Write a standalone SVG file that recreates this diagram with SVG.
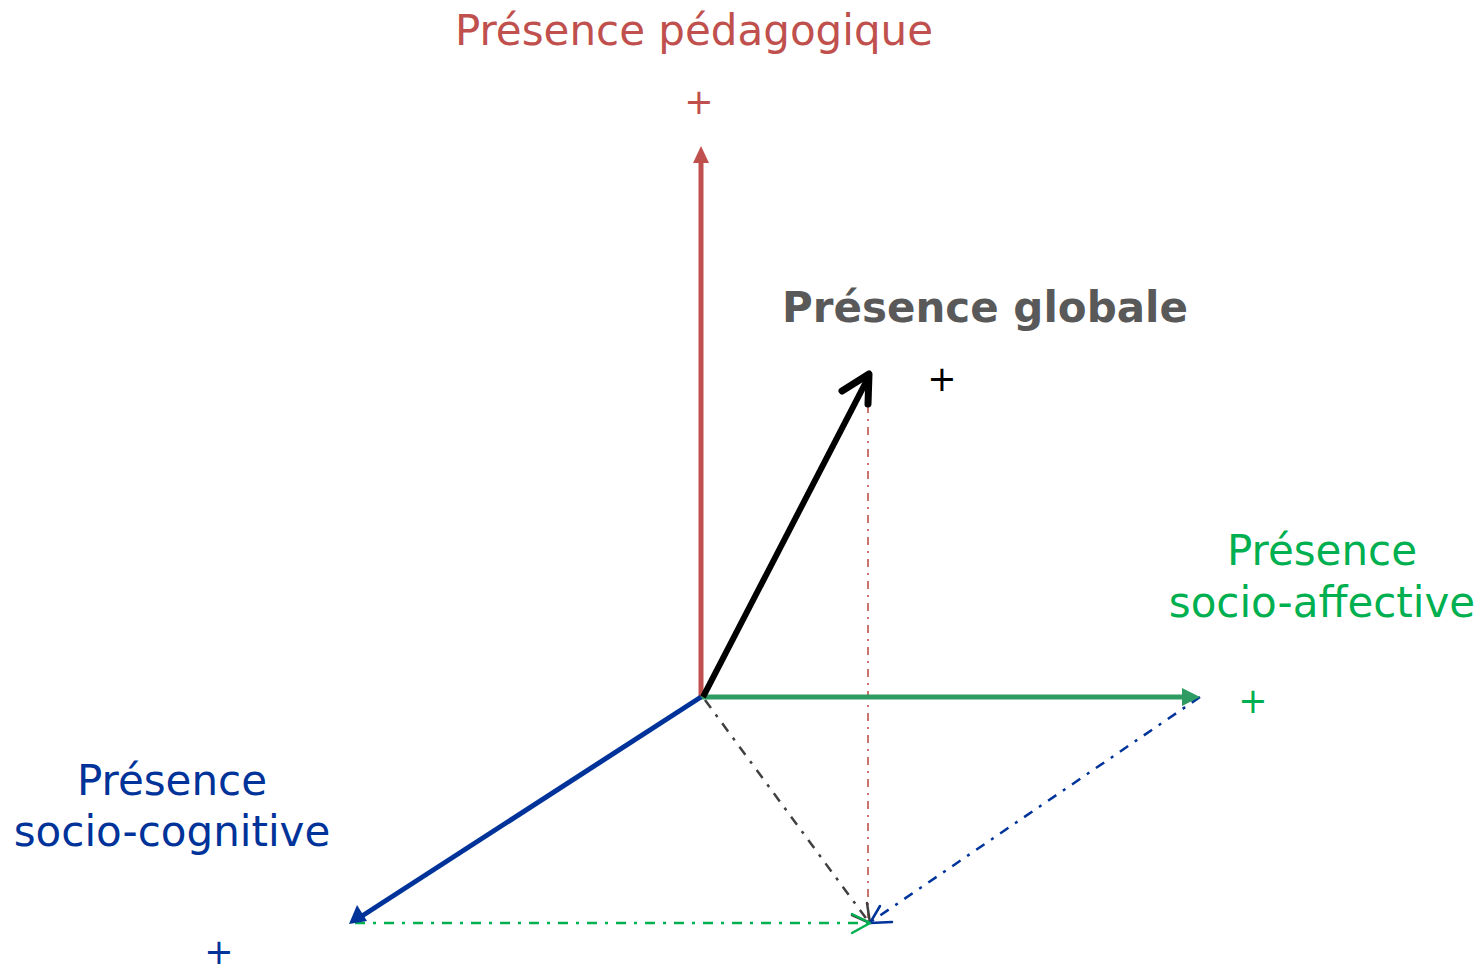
<svg xmlns="http://www.w3.org/2000/svg" width="1481" height="967" viewBox="0 0 1481 967">
<style>
text{font-family:"DejaVu Sans","Verdana",sans-serif;font-size:42px}
.red{fill:#C0504D}.grn{fill:#00B050}.blu{fill:#003399}
.plus{font-size:35px}
.dd{fill:none;stroke-width:2.5;stroke-dasharray:10 8 3 8}
.open{fill:none;stroke-width:2.5;stroke-linecap:round;stroke-linejoin:round}
</style>
<rect width="1481" height="967" fill="#fff"/>
<g id="connectors">
<line x1="868" y1="405" x2="868" y2="918" stroke="#C0504D" stroke-width="1.6" stroke-dasharray="8 6 2 6"/>
<line class="dd" x1="705" y1="700" x2="868" y2="921" stroke="#404040"/>
<polyline class="open" points="852,915 870,923 867,903" stroke="#404040"/>
<line class="dd" x1="1200" y1="697" x2="872" y2="921" stroke="#003399"/>
<polyline class="open" points="892,922 870,923 880,906" stroke="#003399"/>
<line class="dd" x1="355" y1="923" x2="868" y2="923" stroke="#00B050"/>
<polyline class="open" points="852,933 870,923 852,914" stroke="#00B050"/>
</g>
<g id="axis-pedagogique">
<line x1="701" y1="697" x2="701" y2="160" stroke="#C0504D" stroke-width="5"/>
<polygon points="701,146 709,163 693,163" fill="#C0504D"/>
</g>
<g id="axis-socio-affective">
<line x1="701" y1="697" x2="1184" y2="697" stroke="#2E9B62" stroke-width="5"/>
<polygon points="1200,697 1182,688 1182,706" fill="#2E9B62"/>
</g>
<g id="axis-socio-cognitive">
<line x1="701" y1="697" x2="362" y2="916" stroke="#003399" stroke-width="5"/>
<polygon points="349,924 357,905 367,921" fill="#003399"/>
</g>
<g id="presence-globale-vector">
<line x1="703" y1="697" x2="867" y2="380" stroke="#000" stroke-width="6"/>
<polyline points="842,391 869,374 868,404" fill="none" stroke="#000" stroke-width="7" stroke-linecap="round" stroke-linejoin="round"/>
</g>
<g id="label-pedagogique">
<text class="red" x="694" y="45" text-anchor="middle">Présence pédagogique</text>
<text class="red plus" x="699" y="114" text-anchor="middle">+</text>
</g>
<g id="label-globale">
<text x="985" y="322" text-anchor="middle" font-weight="bold" fill="#595959">Présence globale</text>
<text class="plus" x="942" y="391" text-anchor="middle" fill="#000">+</text>
</g>
<g id="label-socio-affective">
<text class="grn" x="1322" y="565" text-anchor="middle">Présence</text>
<text class="grn" x="1322" y="617" text-anchor="middle">socio-affective</text>
<text class="grn plus" x="1253" y="713" text-anchor="middle">+</text>
</g>
<g id="label-socio-cognitive">
<text class="blu" x="172" y="795" text-anchor="middle">Présence</text>
<text class="blu" x="172" y="846" text-anchor="middle">socio-cognitive</text>
<text class="blu plus" x="219" y="964" text-anchor="middle">+</text>
</g>
</svg>
